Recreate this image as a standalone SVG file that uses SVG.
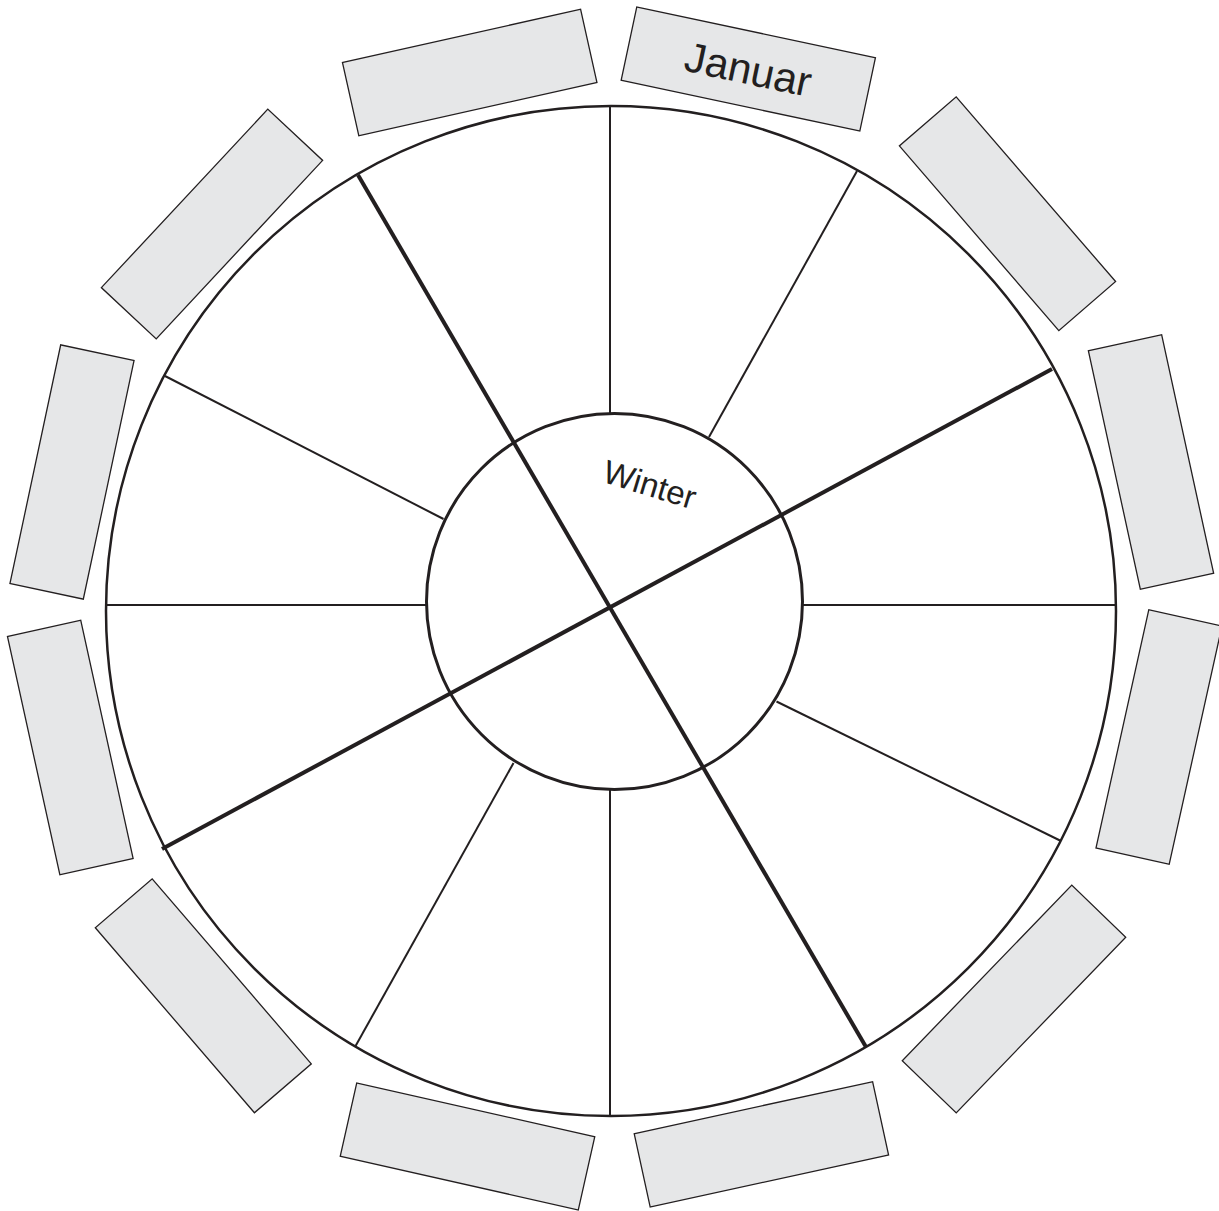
<svg xmlns="http://www.w3.org/2000/svg" width="1219" height="1211" viewBox="0 0 1219 1211">
  <style>
    .box { fill: #e6e7e8; stroke: #231f20; stroke-width: 1.3; }
    .ring { fill: #ffffff; stroke: #231f20; }
    .thin { stroke: #231f20; stroke-width: 2; fill: none; }
    .thick { stroke: #231f20; stroke-width: 4; fill: none; }
    .lbl { font-family: "Liberation Sans", Arial, sans-serif; fill: #231f20; text-anchor: middle; }
  </style>
  <defs>
    <rect id="slot" x="-122" y="-37.5" width="244" height="75"/>
  </defs>
  <rect width="1219" height="1211" fill="#ffffff"/>

  <g id="months">
    <g id="box-januar" transform="translate(748.3 69) rotate(12)">
      <use href="#slot" class="box"/>
      <text class="lbl" x="0" y="15" font-size="42">Januar</text>
    </g>
    <g id="box-dezember" transform="translate(469.7 72.5) rotate(-12.6)"><use href="#slot" class="box"/></g>
    <g id="box-februar" transform="translate(1007.5 213.7) rotate(49.2)"><use href="#slot" class="box"/></g>
    <g id="box-maerz" transform="translate(1151 462) rotate(77.7)"><use href="#slot" class="box"/></g>
    <g id="box-april" transform="translate(1159 737) rotate(102.5)"><use href="#slot" class="box"/></g>
    <g id="box-mai" transform="translate(1014 999) rotate(134)"><use href="#slot" class="box"/></g>
    <g id="box-juni" transform="translate(761.4 1144.3) rotate(-12.3)"><use href="#slot" class="box"/></g>
    <g id="box-juli" transform="translate(467.5 1146.5) rotate(12.7)"><use href="#slot" class="box"/></g>
    <g id="box-august" transform="translate(203.3 995.8) rotate(49.3)"><use href="#slot" class="box"/></g>
    <g id="box-september" transform="translate(70.3 747.5) rotate(77.6)"><use href="#slot" class="box"/></g>
    <g id="box-oktober" transform="translate(72 472) rotate(102)"><use href="#slot" class="box"/></g>
    <g id="box-november" transform="translate(212 224) rotate(133)"><use href="#slot" class="box"/></g>
  </g>

  <g id="outer-ring">
    <circle class="ring" cx="611" cy="611" r="505" stroke-width="2.5"/>
  </g>

  <g id="connectors">
    <line class="thin" x1="610" y1="106" x2="610" y2="413"/>
    <line class="thin" x1="610" y1="789" x2="610" y2="1116"/>
    <line class="thin" x1="106" y1="605" x2="427" y2="605"/>
    <line class="thin" x1="802" y1="605" x2="1116" y2="605"/>
    <line class="thin" x1="857" y1="171" x2="709" y2="437"/>
    <line class="thin" x1="165" y1="376" x2="443.5" y2="519"/>
    <line class="thin" x1="1061" y1="841" x2="776.5" y2="701.5"/>
    <line class="thin" x1="355" y1="1047" x2="513.5" y2="763"/>
  </g>

  <g id="inner-ring">
    <circle class="ring" cx="614.5" cy="601.5" r="188" stroke-width="3" fill="none"/>
    <text class="lbl" transform="translate(650 484) rotate(17)" x="0" y="12" font-size="33">Winter</text>
  </g>

  <g id="season-axes">
    <line class="thick" x1="358" y1="175" x2="866" y2="1047"/>
    <line class="thick" x1="1052" y1="369" x2="162" y2="849"/>
  </g>
</svg>
